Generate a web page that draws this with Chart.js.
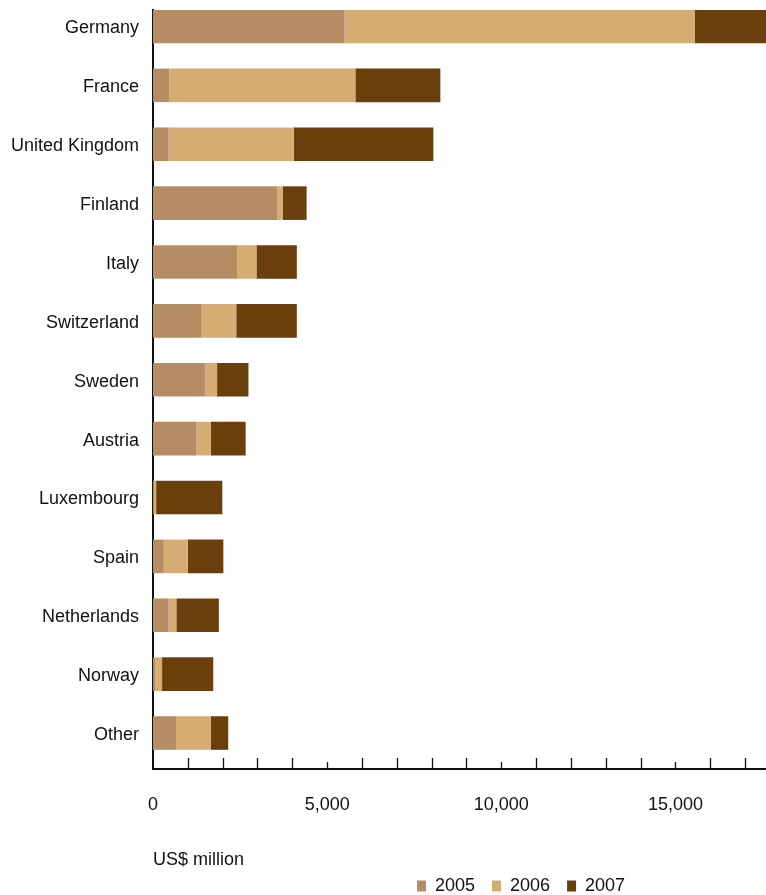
<!DOCTYPE html>
<html><head><meta charset="utf-8">
<script src="https://cdn.jsdelivr.net/npm/chart.js@4.4.1/dist/chart.umd.min.js"></script>
<style>html,body{margin:0;padding:0;background:#fff;}canvas{display:block;}</style>
</head><body>
<canvas id="c" width="766" height="895"></canvas>
<script>
const categories = ['Germany','France','United Kingdom','Finland','Italy','Switzerland','Sweden','Austria','Luxembourg','Spain','Netherlands','Norway','Other'];
const years = ['2005','2006','2007'];
const values2005 = [5500, 470, 450, 3570, 2430, 1400, 1490, 1250, 30, 310, 450, 60, 660];
const values2006 = [10050, 5340, 3590, 150, 540, 990, 350, 410, 60, 690, 220, 200, 1000];
const values2007 = [2200, 2440, 4010, 690, 1160, 1740, 900, 1000, 1900, 1020, 1220, 1470, 500];
const xTickValues = [0, 5000, 10000, 15000];
const xMinorTicks = [1000,2000,3000,4000,5000,6000,7000,8000,9000,10000,11000,12000,13000,14000,15000,16000,17000];
const xMax = 17600;
const colors = ['#b58d65', '#d5ad72', '#6b3f0c'];

const font = {family: "'Liberation Sans', Arial, sans-serif", size: 18};
const fmt = v => String(v).replace(/\B(?=(\d{3})+(?!\d))/g, ',');
const toPts = arr => arr.map((v, i) => ({x: v, y: i}));

const axisTicks = {
  id: 'axisTicks',
  afterDraw(chart) {
    const xs = chart.scales.x, ctx = chart.ctx;
    const y0 = chart.chartArea.bottom;
    ctx.save();
    ctx.strokeStyle = '#111';
    ctx.lineWidth = 1.3;
    xMinorTicks.forEach(v => {
      const px = Math.round(xs.getPixelForValue(v)) + 0.5;
      const len = (v % 5000 === 0) ? 7 : 11;
      ctx.beginPath(); ctx.moveTo(px, y0); ctx.lineTo(px, y0 - len); ctx.stroke();
    });
    ctx.restore();
  }
};

const legendPlace = {
  id: 'legendPlace',
  beforeDraw(chart) {
    const lg = chart.legend;
    lg.left = 400; lg.top = 860;
    lg.right = 766; lg.bottom = 895;
  }
};

new Chart(document.getElementById('c'), {
  type: 'bar',
  data: {
    datasets: [
      {label: years[0], data: toPts(values2005), backgroundColor: colors[0], borderWidth: 0},
      {label: years[1], data: toPts(values2006), backgroundColor: colors[1], borderWidth: 0},
      {label: years[2], data: toPts(values2007), backgroundColor: colors[2], borderWidth: 0}
    ]
  },
  options: {
    indexAxis: 'y',
    responsive: false,
    animation: false,
    layout: {padding: {top: 10, right: 0, bottom: 0, left: 0}},
    datasets: {bar: {categoryPercentage: 1, barPercentage: 0.57}},
    plugins: {
      tooltip: {enabled: false},
      legend: {
        position: 'bottom', align: 'start', maxHeight: 1,
        labels: {boxWidth: 9, boxHeight: 11, padding: 17, font, color: '#111'}
      }
    },
    scales: {
      y: {
        type: 'linear', reverse: true, offset: false, min: -0.28, max: 12.611, stacked: true, z: 1,
        afterBuildTicks: s => { s.ticks = categories.map((c, i) => ({value: i})); },
        afterFit: s => { s.width = 153; s.paddingTop = 0; s.paddingBottom = 0; },
        grid: {display: false, drawTicks: false},
        border: {display: true, color: '#111', width: 2},
        ticks: {callback: v => categories[v] ?? '', padding: 14, labelOffset: 2, font, color: '#111', autoSkip: false}
      },
      x: {
        type: 'linear', min: 0, max: xMax, stacked: true, position: 'bottom', z: 1,
        afterBuildTicks: s => { s.ticks = xTickValues.map(v => ({value: v})); },
        afterFit: s => { s.height = 895 - 769 - (s.chart.legend ? s.chart.legend.height : 0); s.paddingRight = 0; },
        grid: {display: false, drawTicks: false},
        border: {display: true, color: '#111', width: 2},
        ticks: {callback: v => fmt(v), padding: 25, font, color: '#111', autoSkip: false, maxRotation: 0},
        title: {display: true, text: 'US$ million', align: 'start', font, color: '#111', padding: {top: 0, bottom: 23}}
      }
    }
  },
  plugins: [axisTicks, legendPlace]
});
</script>
</body></html>
